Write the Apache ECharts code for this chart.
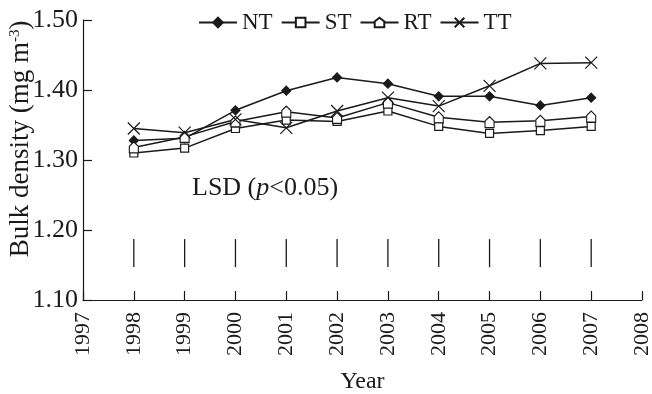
<!DOCTYPE html>
<html>
<head>
<meta charset="utf-8">
<script src="https://cdn.jsdelivr.net/npm/echarts@6/dist/echarts.min.js"></script>
<style>html,body{margin:0;padding:0;background:#fff}#c{width:652px;height:394px}</style>
</head>
<body>
<div id="c"></div>
<script>
const years = [1998, 1999, 2000, 2001, 2002, 2003, 2004, 2005, 2006, 2007];
const NT = [1.328, 1.331, 1.371, 1.399, 1.418, 1.409, 1.391, 1.391, 1.378, 1.389];
const ST = [1.310, 1.317, 1.345, 1.357, 1.355, 1.370, 1.348, 1.338, 1.342, 1.348];
const RT = [1.318, 1.333, 1.355, 1.369, 1.360, 1.382, 1.361, 1.354, 1.356, 1.362];
const TT = [1.345, 1.339, 1.358, 1.346, 1.370, 1.389, 1.377, 1.406, 1.438, 1.439];
const lsdLow = [1.147, 1.147, 1.147, 1.147, 1.147, 1.147, 1.147, 1.147, 1.147, 1.147];
const lsdHigh = [1.187, 1.187, 1.187, 1.187, 1.187, 1.187, 1.187, 1.187, 1.187, 1.187];
const yTicks = { min: 1.10, max: 1.50, interval: 0.10 };
const xTicks = { min: 1997, max: 2008, interval: 1 };

const FONT = '"Liberation Serif", "Times New Roman", Times, serif';
const INK = '#1a1a1a';
const pair = arr => years.map((y, i) => [y, arr[i]]);

const houseSym = 'path://M0,4 L0,10 L8,10 L8,4 L4,0 Z';
const crossSym = 'path://M0,0 L10,10 M10,0 L0,10';

function lineSeries(name, arr, symbol, size, fill) {
  return {
    name, type: 'line', data: pair(arr), symbol, symbolSize: size,
    lineStyle: { color: INK, width: 1.5 },
    itemStyle: { color: fill, borderColor: INK, borderWidth: 1.2 },
    emphasis: { disabled: true }, z: 3
  };
}

const chart = echarts.init(document.getElementById('c'), null, { renderer: 'canvas' });
chart.setOption({
  animation: false,
  textStyle: { fontFamily: FONT, color: INK },
  grid: { left: 83, right: 10, top: 20, bottom: 94, containLabel: false, outerBoundsMode: 'none' },
  legend: {
    data: ['NT', 'ST', 'RT', 'TT'], top: 6, left: 193,
    itemWidth: 38, itemHeight: 12, itemGap: 8,
    textStyle: { fontFamily: FONT, fontSize: 23, color: INK }
  },
  xAxis: {
    type: 'value', min: xTicks.min, max: xTicks.max, interval: xTicks.interval,
    name: 'Year', nameLocation: 'middle', nameGap: 70,
    nameTextStyle: { fontFamily: FONT, fontSize: 24, color: INK },
    axisLine: { lineStyle: { color: INK, width: 1.2 } },
    axisTick: { inside: true, length: 9, lineStyle: { color: INK, width: 1.2 } },
    axisLabel: { rotate: 90, margin: 12, fontFamily: FONT, fontSize: 22, color: INK, formatter: v => String(v) },
    splitLine: { show: false }
  },
  yAxis: {
    type: 'value', min: yTicks.min, max: yTicks.max, interval: yTicks.interval,
    axisLine: { show: true, lineStyle: { color: INK, width: 1.2 } },
    axisTick: { show: true, inside: true, length: 9, lineStyle: { color: INK, width: 1.2 } },
    axisLabel: { margin: 5, fontFamily: FONT, fontSize: 26, color: INK, formatter: v => v.toFixed(2) },
    splitLine: { show: false }
  },
  graphic: [{
    type: 'text', left: 192, top: 175,
    style: {
      text: 'LSD ({it|p}<0.05)', fontFamily: FONT, fontSize: 26, fill: INK,
      rich: { it: { fontStyle: 'italic', fontFamily: FONT, fontSize: 26, color: INK } }
    }
  }, {
    type: 'text', x: 21, y: 139, rotation: Math.PI / 2,
    style: {
      text: 'Bulk density (mg m{sup|-3})', fontFamily: FONT, fontSize: 27, fill: INK,
      align: 'center', verticalAlign: 'middle',
      rich: { sup: { fontSize: 15, verticalAlign: 'top', fontFamily: FONT, color: INK, padding: [0, 0, 8, 0] } }
    }
  }],
  series: [
    lineSeries('NT', NT, 'diamond', 9, INK),
    lineSeries('ST', ST, 'rect', 8, '#fff'),
    lineSeries('RT', RT, houseSym, [9, 11], '#fff'),
    lineSeries('TT', TT, crossSym, 12, 'none'),
    {
      name: 'LSD', type: 'custom',
      data: years.map((y, i) => [y, lsdLow[i], lsdHigh[i]]),
      encode: { x: 0, y: [1, 2] },
      renderItem: (params, api) => {
        const a = api.coord([api.value(0), api.value(1)]);
        const b = api.coord([api.value(0), api.value(2)]);
        return { type: 'line', shape: { x1: a[0], y1: a[1], x2: b[0], y2: b[1] }, style: { stroke: INK, lineWidth: 1.3 } };
      }
    }
  ]
});
</script>
</body>
</html>
